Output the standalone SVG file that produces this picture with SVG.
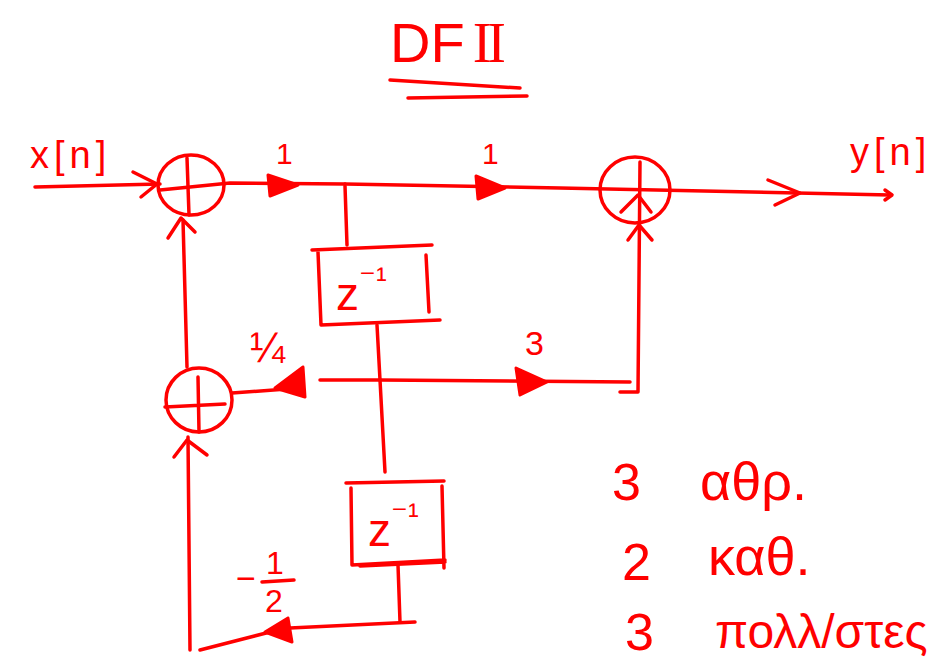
<svg xmlns="http://www.w3.org/2000/svg" width="950" height="662" viewBox="0 0 950 662">
<style>
.s{fill:none;stroke:#ff0000;stroke-width:3.5;stroke-linecap:round;stroke-linejoin:round}
.f{fill:#ff0000;stroke:#ff0000;stroke-width:3;stroke-linejoin:round}
.t{fill:#ff0000;font-family:"Liberation Sans","DejaVu Sans",sans-serif}
</style>
<rect width="950" height="662" fill="#ffffff"/>
<g id="title">
<text class="t" x="390" y="62" font-size="56">DF<tspan dx="8" font-family="Liberation Serif, serif" letter-spacing="-4">II</tspan></text>
<path class="s" d="M390 80 L520 88 M408 98 L527 96"/>
</g>
<g id="connectors">
<path class="s" d="M35 187 L160 184"/>
<path class="s" d="M133 172 L157 184 L141 197"/>
<path class="s" d="M160 190 L230 183 L345 184"/>
<path class="f" d="M268 175 L298 185 L270 196 Z"/>
<path class="s" d="M345 184 L560 188 L890 195"/>
<path class="f" d="M476 176 L505 188 L478 199 Z"/>
<path class="s" d="M345 186 L347 245"/>
<path class="s" d="M768 180 L800 193 L775 205"/>
<path class="s" d="M885 190 L892 195 L885 200"/>
<path class="s" d="M377 325 L380 380 L385 472"/>
<path class="s" d="M380 380 L630 382"/>
<path class="f" d="M516 368 L547 382 L520 395 Z"/>
<path class="s" d="M380 380 L320 380"/>
<path class="f" d="M303 367 L275 388 L305 397 Z"/>
<path class="s" d="M300 388 L232 393"/>
<path class="s" d="M620 392 L638 392 L640 162"/>
<path class="s" d="M628 240 L639 225 L652 240"/>
<path class="s" d="M621 212 L638 195 L651 212"/>
<path class="s" d="M187 367 L183 220"/>
<path class="s" d="M168 238 L181 218 L195 232"/>
<path class="s" d="M190 650 L188 437"/>
<path class="s" d="M174 457 L187 440 L207 455"/>
<path class="s" d="M398 565 L400 622"/>
<path class="s" d="M415 622 L290 628"/>
<path class="f" d="M288 618 L265 632 L292 642 Z"/>
<path class="s" d="M270 632 L200 650"/>
</g>
<g id="adder1">
<ellipse class="s" cx="191" cy="185" rx="33" ry="30"/>
<path class="s" d="M187 158 L189 215"/>
</g>
<g id="adder2">
<ellipse class="s" cx="635" cy="190" rx="35" ry="33"/>
</g>
<g id="adder3">
<ellipse class="s" cx="199" cy="400" rx="33" ry="32"/>
<path class="s" d="M165 407 L225 404 M198 377 L199 432"/>
</g>
<g id="delay1">
<path class="s" d="M312 250 L432 245 M318 252 L321 325 L440 320 M426 255 L429 312"/>
<text class="t" x="336" y="310" font-size="46">z<tspan dy="-20" font-size="32">⁻¹</tspan></text>
</g>
<g id="delay2">
<path class="s" d="M346 483 L444 481 M351 488 L352 565 L445 560 M442 486 L444 568 M360 566 L445 562"/>
<text class="t" x="368" y="546" font-size="46">z<tspan dy="-20" font-size="32">⁻¹</tspan></text>
</g>
<g id="labels">
<text class="t" x="30" y="168" font-size="38" letter-spacing="5">x[n]</text>
<text class="t" x="850" y="165" font-size="38" letter-spacing="5">y[n]</text>
<text class="t" x="276" y="164" font-size="30">1</text>
<text class="t" x="482" y="164" font-size="30">1</text>
<text class="t" x="250" y="362" font-size="42">¼</text>
<text class="t" x="525" y="355" font-size="34">3</text>
<text class="t" x="236" y="590" font-size="34">−</text>
<text class="t" x="266" y="574" font-size="32">1</text>
<path class="s" d="M262 582 L294 580"/>
<text class="t" x="265" y="612" font-size="32">2</text>
<text class="t" x="612" y="500" font-size="52">3</text>
<text class="t" x="700" y="500" font-size="54">αθρ.</text>
<text class="t" x="622" y="580" font-size="52">2</text>
<text class="t" x="708" y="575" font-size="54">καθ.</text>
<text class="t" x="625" y="650" font-size="52">3</text>
<text class="t" x="715" y="648" font-size="48">πολλ/στες</text>
</g>
</svg>
